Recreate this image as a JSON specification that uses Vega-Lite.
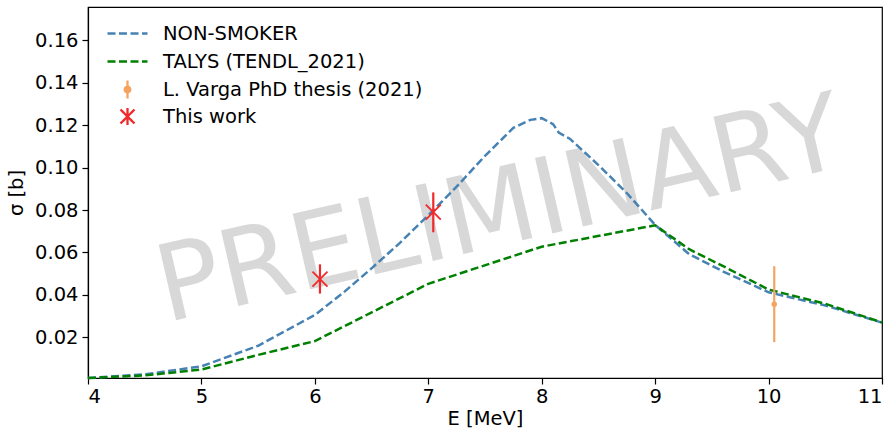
{
  "$schema": "https://vega.github.io/schema/vega-lite/v6.json",
  "autosize": "none",
  "width": 794,
  "height": 371,
  "padding": {"left": 88, "top": 7, "right": 14, "bottom": 52},
  "background": "white",
  "config": {
    "font": "DejaVu Sans",
    "view": {"stroke": "black", "strokeWidth": 1.2},
    "axis": {
      "grid": false,
      "domainColor": "black",
      "domainWidth": 1.2,
      "tickColor": "black",
      "tickWidth": 1.2,
      "tickSize": 6,
      "labelColor": "black",
      "labelFont": "DejaVu Sans",
      "labelFontSize": 19.5,
      "titleFont": "DejaVu Sans",
      "titleFontSize": 19.5,
      "titleFontWeight": "normal",
      "titleColor": "black"
    }
  },
  "datasets": {
    "curves": [
      {"series": "NON-SMOKER", "E": 4.0, "sigma": 0.0008},
      {"series": "NON-SMOKER", "E": 4.5, "sigma": 0.0025},
      {"series": "NON-SMOKER", "E": 5.0, "sigma": 0.0063},
      {"series": "NON-SMOKER", "E": 5.5, "sigma": 0.0160},
      {"series": "NON-SMOKER", "E": 6.0, "sigma": 0.0305},
      {"series": "NON-SMOKER", "E": 6.25, "sigma": 0.0410},
      {"series": "NON-SMOKER", "E": 6.5, "sigma": 0.0525},
      {"series": "NON-SMOKER", "E": 6.75, "sigma": 0.0645},
      {"series": "NON-SMOKER", "E": 7.0, "sigma": 0.0775},
      {"series": "NON-SMOKER", "E": 7.25, "sigma": 0.0910},
      {"series": "NON-SMOKER", "E": 7.5, "sigma": 0.1055},
      {"series": "NON-SMOKER", "E": 7.75, "sigma": 0.1187},
      {"series": "NON-SMOKER", "E": 7.9, "sigma": 0.1225},
      {"series": "NON-SMOKER", "E": 8.0, "sigma": 0.1233},
      {"series": "NON-SMOKER", "E": 8.1, "sigma": 0.1205},
      {"series": "NON-SMOKER", "E": 8.15, "sigma": 0.1165},
      {"series": "NON-SMOKER", "E": 8.25, "sigma": 0.1135},
      {"series": "NON-SMOKER", "E": 8.5, "sigma": 0.1012},
      {"series": "NON-SMOKER", "E": 8.75, "sigma": 0.0880},
      {"series": "NON-SMOKER", "E": 9.0, "sigma": 0.0730},
      {"series": "NON-SMOKER", "E": 9.3, "sigma": 0.0592},
      {"series": "NON-SMOKER", "E": 9.6, "sigma": 0.0510},
      {"series": "NON-SMOKER", "E": 10.0, "sigma": 0.0412},
      {"series": "NON-SMOKER", "E": 10.5, "sigma": 0.0350},
      {"series": "NON-SMOKER", "E": 11.0, "sigma": 0.0269},
      {"series": "TALYS (TENDL_2021)", "E": 4.0, "sigma": 0.0008},
      {"series": "TALYS (TENDL_2021)", "E": 4.5, "sigma": 0.0020},
      {"series": "TALYS (TENDL_2021)", "E": 5.0, "sigma": 0.0048},
      {"series": "TALYS (TENDL_2021)", "E": 5.5, "sigma": 0.0117},
      {"series": "TALYS (TENDL_2021)", "E": 6.0, "sigma": 0.0182},
      {"series": "TALYS (TENDL_2021)", "E": 7.0, "sigma": 0.0452},
      {"series": "TALYS (TENDL_2021)", "E": 8.0, "sigma": 0.0627},
      {"series": "TALYS (TENDL_2021)", "E": 9.0, "sigma": 0.0728},
      {"series": "TALYS (TENDL_2021)", "E": 9.3, "sigma": 0.0615},
      {"series": "TALYS (TENDL_2021)", "E": 9.6, "sigma": 0.0535},
      {"series": "TALYS (TENDL_2021)", "E": 10.0, "sigma": 0.0425},
      {"series": "TALYS (TENDL_2021)", "E": 10.5, "sigma": 0.0358},
      {"series": "TALYS (TENDL_2021)", "E": 11.0, "sigma": 0.0270}
    ],
    "points": [
      {"series": "L. Varga PhD thesis (2021)", "E": 10.05, "sigma": 0.0356, "lo": 0.0177, "hi": 0.0535},
      {"series": "This work", "E": 6.045, "sigma": 0.0474, "lo": 0.0406, "hi": 0.0544},
      {"series": "This work", "E": 7.044, "sigma": 0.0790, "lo": 0.0695, "hi": 0.0883}
    ],
    "watermark": [
      {"E": 7.634, "sigma": 0.0788, "label": "PRELIMINARY"}
    ]
  },
  "encoding": {
    "x": {
      "field": "E", "type": "quantitative",
      "scale": {"domain": [4, 11], "nice": false, "zero": false},
      "axis": {"values": [4, 5, 6, 7, 8, 9, 10, 11], "title": "E [MeV]", "labelPadding": 3, "titlePadding": 4, "format": "d"}
    },
    "y": {
      "field": "sigma", "type": "quantitative",
      "scale": {"domain": [0.0008, 0.1757], "nice": false, "zero": false},
      "axis": {"values": [0.02, 0.04, 0.06, 0.08, 0.1, 0.12, 0.14, 0.16], "format": ".2f", "title": "σ [b]", "labelPadding": 4, "titlePadding": 8}
    }
  },
  "layer": [
    {
      "data": {"name": "watermark"},
      "mark": {"type": "text", "angle": -13, "fontSize": 106, "font": "DejaVu Sans", "color": "#808080", "opacity": 0.3, "align": "center", "baseline": "middle"},
      "encoding": {"text": {"field": "label"}}
    },
    {
      "data": {"name": "curves"},
      "mark": {"type": "line", "strokeWidth": 2.5, "strokeDash": [8, 3.5]},
      "encoding": {
        "color": {
          "field": "series", "type": "nominal",
          "scale": {
            "domain": ["NON-SMOKER", "TALYS (TENDL_2021)", "L. Varga PhD thesis (2021)", "This work"],
            "range": ["#4682b4", "#008000", "#f4a460", "#f02a2a"]
          },
          "legend": {
            "title": null,
            "orient": "none",
            "legendX": 28,
            "legendY": 15,
            "padding": 0,
            "symbolSize": 400,
            "symbolStrokeWidth": 2.5,
            "labelFont": "DejaVu Sans",
            "labelFontSize": 19.5,
            "labelColor": "black",
            "labelLimit": 0,
            "labelOffset": 24,
            "rowPadding": -1,
            "encode": {
              "symbols": {
                "update": {
                  "shape": {"signal": "datum.value === 'L. Varga PhD thesis (2021)' ? 'M0,-0.9L0,0.9M-0.28,0A0.28,0.28,0,1,0,0.28,0A0.28,0.28,0,1,0,-0.28,0' : datum.value === 'This work' ? 'M-0.7,-0.7L0.7,0.7M0.7,-0.7L-0.7,0.7M0,-0.85L0,0.85' : 'M0,-0.9M0,0.9M-2,0L2,0'"},
                  "strokeDash": {"signal": "datum.value === 'NON-SMOKER' || datum.value === 'TALYS (TENDL_2021)' ? [8, 3.5] : [1, 0]"},
                  "stroke": {"signal": "scale('color', datum.value)"},
                  "fill": {"signal": "datum.value === 'L. Varga PhD thesis (2021)' ? scale('color', datum.value) : 'transparent'"},
                  "opacity": {"value": 1},
                  "fillOpacity": {"value": 1},
                  "strokeWidth": {"value": 2.3}
                }
              }
            }
          }
        }
      }
    },
    {
      "data": {"name": "points"},
      "mark": {"type": "rule", "strokeWidth": 2.2},
      "encoding": {
        "y": {"field": "lo", "type": "quantitative"},
        "y2": {"field": "hi"},
        "color": {"field": "series", "type": "nominal"}
      }
    },
    {
      "data": {"name": "points"},
      "transform": [{"filter": "datum.series === 'This work'"}],
      "mark": {"type": "point", "shape": "M-1,-1L1,1M1,-1L-1,1", "size": 225, "filled": false, "strokeWidth": 1.8, "opacity": 1},
      "encoding": {"color": {"field": "series", "type": "nominal"}}
    },
    {
      "data": {"name": "points"},
      "transform": [{"filter": "datum.series === 'L. Varga PhD thesis (2021)'"}],
      "mark": {"type": "point", "shape": "circle", "size": 30, "filled": true, "opacity": 1},
      "encoding": {"color": {"field": "series", "type": "nominal"}}
    }
  ]
}
